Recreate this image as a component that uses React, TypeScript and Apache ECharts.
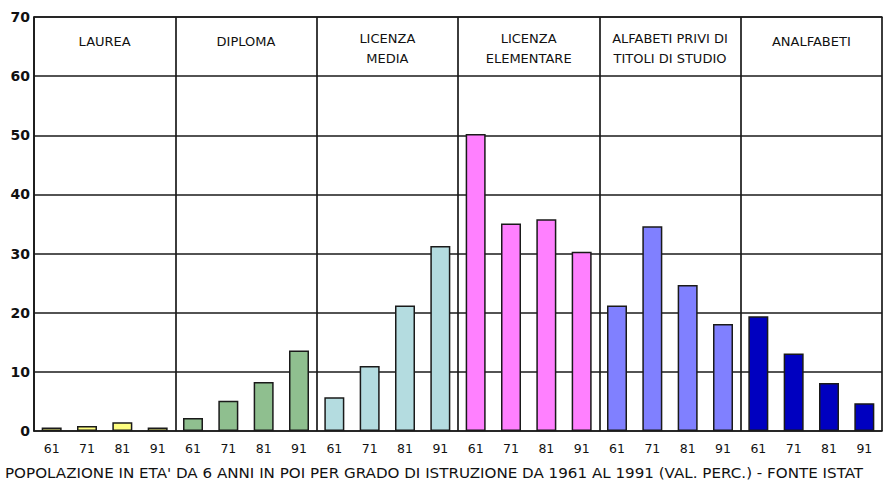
import React, { useEffect, useRef } from "react";
import * as echarts from "echarts";

const groups = [
  "LAUREA",
  "DIPLOMA",
  "LICENZA\nMEDIA",
  "LICENZA\nELEMENTARE",
  "ALFABETI PRIVI DI\nTITOLI DI STUDIO",
  "ANALFABETI",
];
const years = ["61", "71", "81", "91"];
const groupColors = ["#ffff80", "#8fbf8f", "#b4dce0", "#ff80ff", "#8080ff", "#0000c0"];

const laurea = [0.6, 0.85, 1.5, 0.6];
const diploma = [2.2, 5.1, 8.3, 13.6];
const licenzaMedia = [5.7, 11.0, 21.2, 31.3];
const licenzaElementare = [50.2, 35.1, 35.8, 30.3];
const alfabetiPrivi = [21.2, 34.6, 24.7, 18.1];
const analfabeti = [19.4, 13.1, 8.1, 4.7];

const yTicks = { min: 0, max: 70, interval: 10 };
const footer =
  "POPOLAZIONE IN ETA' DA 6 ANNI IN POI PER GRADO DI ISTRUZIONE DA 1961 AL 1991 (VAL. PERC.) - FONTE ISTAT";

export default function App() {
  const ref = useRef<HTMLDivElement>(null);
  useEffect(() => {
    document.body.style.margin = "0";
    const chart = echarts.init(ref.current!, null, { renderer: "svg" });
    const seriesByGroup = [laurea, diploma, licenzaMedia, licenzaElementare, alfabetiPrivi, analfabeti];
    const cats: string[] = [];
    const data: any[] = [];
    seriesByGroup.forEach((vals, gi) => {
      vals.forEach((v, yi) => {
        cats.push(years[yi]);
        data.push({ value: v, itemStyle: { color: groupColors[gi] } });
      });
    });
    const lineStyle = { color: "#1a1a1a", width: 1.7 };
    chart.setOption({
      animation: false,
      backgroundColor: "#ffffff",
      graphic: [
        {
          type: "text",
          x: 5,
          y: 473,
          scaleX: 1.12,
          silent: true,
          style: {
            text: footer,
            fontFamily: "DejaVu Sans",
            fontSize: 13.5,
            fill: "#111",
            align: "left",
            verticalAlign: "middle",
          },
        },
      ],
      grid: { left: 34, right: 7, top: 17, bottom: 49 },
      xAxis: [
        {
          type: "category",
          data: cats,
          axisLine: { show: true, lineStyle },
          axisTick: { show: false },
          splitLine: { show: false },
          axisLabel: {
            interval: 0,
            margin: 11,
            fontFamily: "DejaVu Sans",
            fontSize: 12.5,
            color: "#111",
          },
        },
        {
          type: "category",
          position: "top",
          data: groups,
          axisLine: { show: true, lineStyle },
          axisTick: { show: false },
          splitLine: { show: true, interval: 0, lineStyle },
          axisLabel: {
            inside: true,
            interval: 0,
            margin: 11,
            verticalAlign: "top",
            fontFamily: "DejaVu Sans",
            fontSize: 13,
            lineHeight: 20,
            color: "#111",
            formatter: (v: string) => (v.indexOf("\n") >= 0 ? v : "{s|" + v + "}"),
            rich: {
              s: { fontFamily: "DejaVu Sans", fontSize: 13, color: "#111", padding: [7, 0, 0, 0] },
            },
          },
        },
      ],
      yAxis: {
        type: "value",
        min: yTicks.min,
        max: yTicks.max,
        interval: yTicks.interval,
        axisLine: { show: true, lineStyle },
        axisTick: { show: false },
        splitLine: { show: true, lineStyle },
        axisLabel: {
          margin: 4,
          fontFamily: "DejaVu Sans",
          fontWeight: "bold",
          fontSize: 14,
          color: "#111",
        },
      },
      series: [
        {
          type: "bar",
          xAxisIndex: 0,
          data,
          barWidth: 20,
          itemStyle: { borderColor: "#1a1a1a", borderWidth: 1.5 },
        },
      ],
    });
    return () => chart.dispose();
  }, []);
  return <div ref={ref} style={{ width: 889, height: 480 }} />;
}
